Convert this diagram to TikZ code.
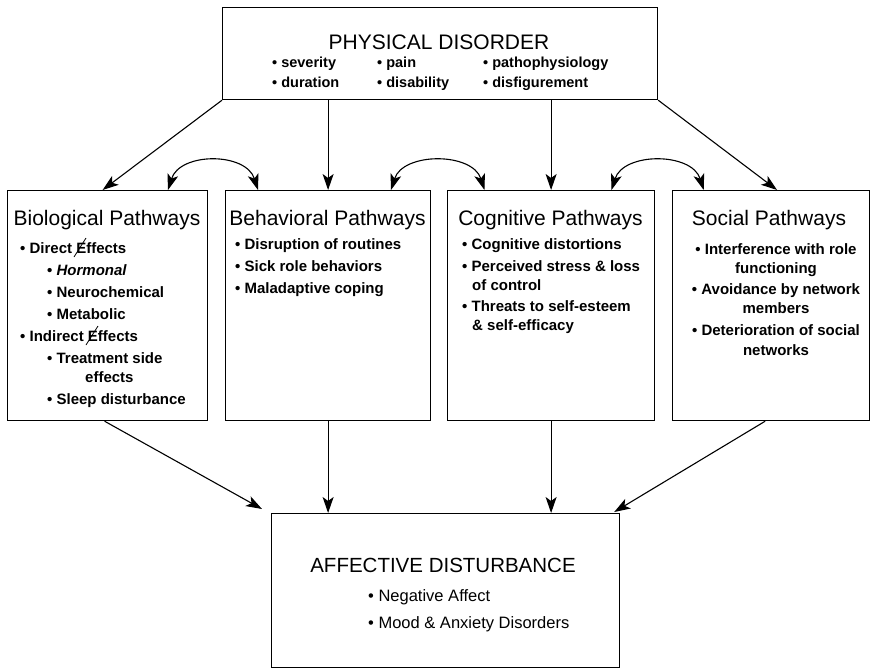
\documentclass[tikz,border=0pt]{standalone}
\usepackage{fontspec}
\setmainfont{Liberation Sans}
\usetikzlibrary{arrows.meta,calc}
\begin{document}
\begin{tikzpicture}[x=1pt,y=-1pt,
  box/.style={draw, line width=1.2pt, anchor=north west, inner sep=0pt},
  ttl/.style={font=\fontsize{21}{25}\selectfont, anchor=base, inner sep=0pt},
  body/.style={font=\bfseries\fontsize{15}{22}\selectfont, anchor=base west, align=left, inner sep=0pt},
  topbody/.style={font=\bfseries\fontsize{14.5}{20}\selectfont, anchor=base west, align=left, inner sep=0pt},
  adbody/.style={font=\fontsize{16.5}{27}\selectfont, anchor=base west, align=left, inner sep=0pt},
  strokemark/.style={line width=0.8pt},
  arr/.style={line width=1.1pt, -{Stealth[length=16pt,width=11pt,inset=4pt]}},
  darr/.style={line width=1.1pt, {Stealth[length=16pt,width=11pt,inset=4pt]}-{Stealth[length=16pt,width=11pt,inset=4pt]}}
]
\useasboundingbox (0,0) rectangle (872,669);

% boxes
\node[box, minimum width=435pt, minimum height=92pt] (pd) at (222,7) {};
\node[box, minimum width=200pt, minimum height=230pt] (bio) at (7,190) {};
\node[box, minimum width=205pt, minimum height=230pt] (beh) at (225,190) {};
\node[box, minimum width=207pt, minimum height=230pt] (cog) at (447,190) {};
\node[box, minimum width=197pt, minimum height=230pt] (soc) at (672,190) {};
\node[box, minimum width=348pt, minimum height=154pt] (ad) at (271,513) {};

% top box text (base anchor of a multi-line node = last line)
\node[ttl] (pdT) at (439,49.5) {PHYSICAL DISORDER};
\node[topbody] (pd1) at (272,87) {\textbullet\ severity\\\textbullet\ duration};
\node[topbody] (pd2) at (377,87) {\textbullet\ pain\\\textbullet\ disability};
\node[topbody] (pd3) at (483,87) {\textbullet\ pathophysiology\\\textbullet\ disfigurement};

% pathway titles
\node[ttl] (bioT) at (107,225.5) {Biological Pathways};
\node[ttl] (behT) at (327.5,225.5) {Behavioral Pathways};
\node[ttl] (cogT) at (550.5,225.5) {Cognitive Pathways};
\node[ttl] (socT) at (769,225.5) {Social Pathways};

% pathway bodies
\node[body] (bioB) at (20,404.5) {%
\textbullet\ Direct Effects\\
\hspace*{27pt}\textbullet\ \textit{Hormonal}\\
\hspace*{27pt}\textbullet\ Neurochemical\\
\hspace*{27pt}\textbullet\ Metabolic\\
\textbullet\ Indirect Effects\\
\hspace*{27pt}\textbullet\ Treatment side\\[-3pt]
\hspace*{65pt}effects\\
\hspace*{27pt}\textbullet\ Sleep disturbance};
% correction strokes over the E's
\draw[strokemark] (74,257) -- (86,238);
\draw[strokemark] (86,345) -- (98,326);

\node[body] (behB) at (235,293) {%
\textbullet\ Disruption of routines\\
\textbullet\ Sick role behaviors\\
\textbullet\ Maladaptive coping};

\node[body] (cogB) at (462,330.5) {%
\textbullet\ Cognitive distortions\\
\textbullet\ Perceived stress \& loss\\[-3pt]
\hspace*{10pt}of control\\[-1pt]
\textbullet\ Threats to self-esteem\\[-3pt]
\hspace*{10pt}\& self-efficacy};

\node[body, anchor=base, align=center] (socB) at (776,355.5) {%
\textbullet\ Interference with role\\[-3pt]
functioning\hspace*{46pt}\\[-1pt]
\textbullet\ Avoidance by network\\[-3pt]
members\\
\textbullet\ Deterioration of social\\[-2pt]
networks};

% bottom box text
\node[ttl, font=\fontsize{20.5}{25}\selectfont] (adT) at (443,572.5) {AFFECTIVE DISTURBANCE};
\node[adbody] (adB) at (368,628) {\textbullet\ Negative Affect\\\textbullet\ Mood \& Anxiety Disorders};

% arrows from top
\draw[arr] (pd.south west) -- ($(bio.north west)!0.475!(bio.north east)$);
\draw[arr] (pd.south -| beh.north) -- (beh.north);
\draw[arr] (pd.south -| cog.north) -- (cog.north);
\draw[arr] (pd.south east) -- ($(soc.north west)!0.53!(soc.north east)$);

% curved double arrows
\coordinate (c1a) at ($(bio.north west)!0.8!(bio.north east)$);
\coordinate (c1b) at ($(beh.north west)!0.16!(beh.north east)$);
\coordinate (c2a) at ($(beh.north west)!0.805!(beh.north east)$);
\coordinate (c2b) at ($(cog.north west)!0.18!(cog.north east)$);
\coordinate (c3a) at ($(cog.north west)!0.79!(cog.north east)$);
\coordinate (c3b) at ($(soc.north west)!0.16!(soc.north east)$);
\draw[darr] (c1a) .. controls +(12,-38) and +(-12,-38) .. (c1b);
\draw[darr] (c2a) .. controls +(12,-38) and +(-12,-38) .. (c2b);
\draw[darr] (c3a) .. controls +(12,-38) and +(-12,-38) .. (c3b);

% arrows to bottom
\coordinate (adL) at ($(ad.north west)+(-9,-4)$);
\coordinate (adR) at ($(ad.north east)+(-6,-1)$);
\draw[arr] ($(bio.south west)!0.485!(bio.south east)$) -- (adL);
\draw[arr] (beh.south) -- (beh.south |- ad.north);
\draw[arr] (cog.south) -- (cog.south |- ad.north);
\draw[arr] ($(soc.south west)!0.47!(soc.south east)$) -- (adR);
\end{tikzpicture}
\end{document}
